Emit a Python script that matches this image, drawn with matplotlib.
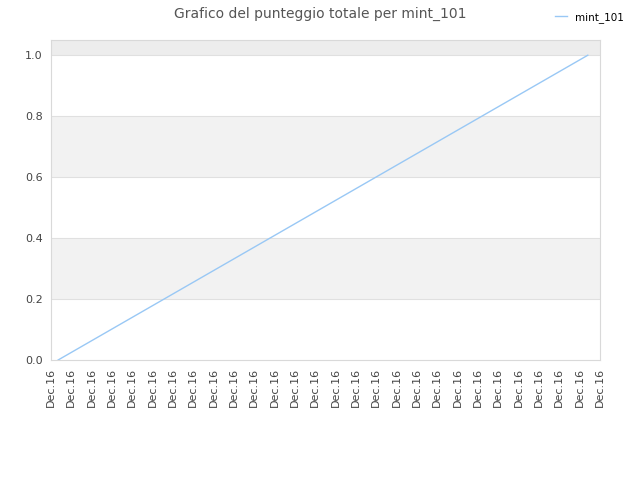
import matplotlib
matplotlib.use("Agg")
import matplotlib.pyplot as plt

# Data
series_name = "mint_101"
x_vals = [0.35, 26.4]
y_vals = [0.0, 1.0]
tick_labels = ["Dec.16"] * 28
y_ticks = [0.0, 0.2, 0.4, 0.6, 0.8, 1.0]

fig = plt.figure(figsize=(6.4, 4.8), dpi=100)
ax = fig.add_axes([0.0797, 0.25, 0.8578, 0.6667])

# alternating bands
for lo, hi, c in [(0.2, 0.4, "#f2f2f2"), (0.6, 0.8, "#f2f2f2"), (1.0, 1.05, "#ededed")]:
    ax.axhspan(lo, hi, color=c, zorder=0, lw=0)
for y in y_ticks[1:]:
    ax.axhline(y, color="#e0e0e0", lw=0.8, zorder=1)

ax.plot(x_vals, y_vals, color="#99c8f5", lw=1, label=series_name, zorder=3)

ax.set_xlim(0, len(tick_labels) - 1)
ax.set_ylim(0, 1.05)
ax.set_xticks(range(len(tick_labels)))
ax.set_xticklabels(tick_labels, rotation=90, fontsize=8, color="#444444")
ax.set_yticks(y_ticks)
ax.set_yticklabels([f"{v:.1f}" for v in y_ticks], fontsize=8, color="#444444")
ax.tick_params(length=0, pad=6)
for s in ax.spines.values():
    s.set_color("#d9d9d9")

fig.suptitle("Grafico del punteggio totale per mint_101", y=0.985, fontsize=10, color="#555555")
fig.legend(loc="upper right", bbox_to_anchor=(0.99, 0.995), frameon=False, fontsize=7.5,
           handlelength=1.2)

fig.savefig("out.png", dpi=100)
